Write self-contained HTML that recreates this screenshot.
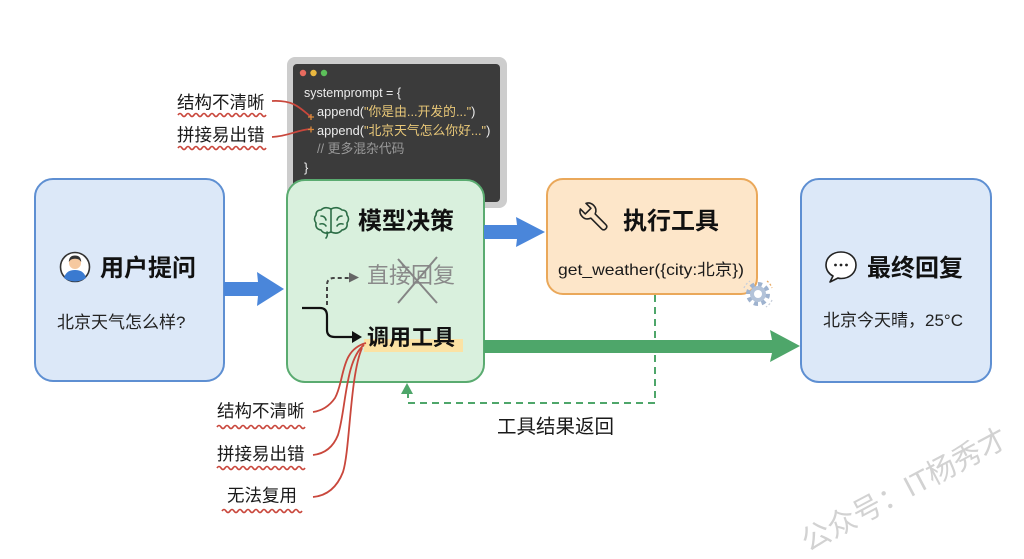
<!DOCTYPE html>
<html><head><meta charset="utf-8"><style>
html,body{margin:0;padding:0;background:#fff;}
svg{display:block;}
text{font-family:"Liberation Sans","Noto Sans CJK SC",sans-serif;}
</style></head><body>
<svg width="1024" height="559" viewBox="0 0 1024 559" xmlns="http://www.w3.org/2000/svg">
<rect width="1024" height="559" fill="#fff"/>

<!-- code window -->
<rect x="287" y="57" width="220" height="151" rx="8" fill="#cdcdcd"/>
<rect x="293" y="64" width="207" height="138" rx="4" fill="#3b3b3b"/>
<circle cx="303" cy="73" r="3.2" fill="#e86b5f"/>
<circle cx="313.5" cy="73" r="3.2" fill="#e9b73f"/>
<circle cx="324" cy="73" r="3.2" fill="#5cc05a"/>
<text x="304" y="97" font-size="12.8" fill="#ececec" textLength="97" lengthAdjust="spacingAndGlyphs">systemprompt = {</text>
<text x="317" y="116" font-size="12.8" fill="#ececec">append(<tspan fill="#e9c878">"你是由...开发的..."</tspan>)</text>
<text x="317" y="135" font-size="12.8" fill="#ececec">append(<tspan fill="#e9c878">"北京天气怎么你好..."</tspan>)</text>
<text x="317" y="153" font-size="12.8" fill="#9a9a9a">// 更多混杂代码</text>
<text x="304" y="172" font-size="12.8" fill="#ececec">}</text>

<!-- top red labels -->
<text x="177" y="108.5" font-size="17.5" fill="#1a1a1a">结构不清晰</text>
<path d="M178 115 q2 -3 4 0 t4 0 t4 0 t4 0 t4 0 t4 0 t4 0 t4 0 t4 0 t4 0 t4 0 t4 0 t4 0 t4 0 t4 0 t4 0 t4 0 t4 0 t4 0 t4 0 t4 0 t4 0" fill="none" stroke="#c9473c" stroke-width="1.6"/>
<text x="177" y="141" font-size="17.5" fill="#1a1a1a">拼接易出错</text>
<path d="M178 148 q2 -3 4 0 t4 0 t4 0 t4 0 t4 0 t4 0 t4 0 t4 0 t4 0 t4 0 t4 0 t4 0 t4 0 t4 0 t4 0 t4 0 t4 0 t4 0 t4 0 t4 0 t4 0 t4 0" fill="none" stroke="#c9473c" stroke-width="1.6"/>
<path d="M272 101 C292 100 298 106 311 117" fill="none" stroke="#c9473c" stroke-width="1.8"/>
<path d="M308 117 h6 M311 114 v6" stroke="#d9893c" stroke-width="1.3"/>
<path d="M272 137 C290 136 296 130 311 129" fill="none" stroke="#c9473c" stroke-width="1.8"/>
<path d="M308 129.5 h6 M311 126.5 v6" stroke="#d9893c" stroke-width="1.3"/>

<!-- user box -->
<rect x="35" y="179" width="189" height="202" rx="18" fill="#dce8f8" stroke="#5e8fd2" stroke-width="2"/>
<circle cx="75" cy="267" r="14.5" fill="#fff" stroke="#333" stroke-width="1.6"/>
<path d="M64 278 Q66 270 75 270 Q84 270 86 278 Q81 281.5 75 281.5 Q69 281.5 64 278 Z" fill="#3a7ad0"/>
<circle cx="75" cy="263" r="6" fill="#f6c9a0"/>
<path d="M68.8 262 Q69 255.5 75 255.5 Q81 255.5 81.2 262 Q79 258.5 75 258.8 Q71 258.5 68.8 262 Z" fill="#333"/>
<text x="100" y="276" font-size="24" font-weight="bold" fill="#111">用户提问</text>
<text x="57" y="328" font-size="17" fill="#222">北京天气怎么样?</text>

<!-- blue arrow 1 -->
<polygon points="224,282 258,282 257,272 284,289 257,306 258,296 224,296" fill="#4a86da"/>

<!-- green box -->
<rect x="287" y="180" width="197" height="202" rx="18" fill="#d9f0dd" stroke="#5aab70" stroke-width="2"/>
<!-- brain -->
<g fill="none" stroke="#2d6e47" stroke-width="1.6" stroke-linecap="round">
<path d="M331 209 Q325 206 321 210 Q316 210 316 215 Q313 219 316 223 Q315 229 321 230 Q324 235 331 232 Q338 235 342 230 Q348 229 347 223 Q350 219 347 215 Q347 210 342 210 Q337 206 331 209 Z"/>
<path d="M331 209 V232 M321 216 Q325 216 326 220 M320 224 Q324 223 326 226 M342 216 Q338 216 337 220 M343 224 Q339 223 337 226"/>
<path d="M327 232 Q328 236 326 238"/>
</g>
<text x="358" y="229" font-size="24" font-weight="bold" fill="#111">模型决策</text>

<!-- branch arrows -->
<path d="M327 305 V285 Q327 278 334 278 H350" fill="none" stroke="#444" stroke-width="2" stroke-dasharray="4 3"/>
<polygon points="349,272.5 359,277.5 349,282.5" fill="#666"/>
<text x="367" y="283" font-size="22" fill="#8a8a8a">直接回复</text>
<path d="M398 259 L437 303 M437 257 L398 303" stroke="#858585" stroke-width="2"/>
<path d="M302 308 H320 Q327 308 327 316 V330 Q327 337 335 337 H354" fill="none" stroke="#111" stroke-width="2.2"/>
<polygon points="352,331 362,337 352,343" fill="#111"/>
<rect x="364" y="339" width="99" height="13" fill="#fbe2a4"/>
<text x="367" y="345" font-size="22" font-weight="bold" fill="#111">调用工具</text>

<!-- bottom red curves -->
<g fill="none" stroke="#c9473c" stroke-width="1.8">
<path d="M366 343 C340 350 345 380 335 398 C328 408 320 411 313 412"/>
<path d="M364 345 C345 360 346 410 338 435 C332 450 322 454 313 455"/>
<path d="M362 348 C350 375 350 450 343 472 C336 490 324 496 313 497"/>
</g>
<text x="217" y="417" font-size="17.5" fill="#1a1a1a">结构不清晰</text>
<path d="M217 427 q2 -3 4 0 t4 0 t4 0 t4 0 t4 0 t4 0 t4 0 t4 0 t4 0 t4 0 t4 0 t4 0 t4 0 t4 0 t4 0 t4 0 t4 0 t4 0 t4 0 t4 0 t4 0 t4 0" fill="none" stroke="#c9473c" stroke-width="1.6"/>
<text x="217" y="460" font-size="17.5" fill="#1a1a1a">拼接易出错</text>
<path d="M217 468 q2 -3 4 0 t4 0 t4 0 t4 0 t4 0 t4 0 t4 0 t4 0 t4 0 t4 0 t4 0 t4 0 t4 0 t4 0 t4 0 t4 0 t4 0 t4 0 t4 0 t4 0 t4 0 t4 0" fill="none" stroke="#c9473c" stroke-width="1.6"/>
<text x="227" y="501.5" font-size="17.5" fill="#1a1a1a">无法复用</text>
<path d="M222 511 q2 -3 4 0 t4 0 t4 0 t4 0 t4 0 t4 0 t4 0 t4 0 t4 0 t4 0 t4 0 t4 0 t4 0 t4 0 t4 0 t4 0 t4 0 t4 0 t4 0 t4 0" fill="none" stroke="#c9473c" stroke-width="1.6"/>

<!-- blue arrow 2 -->
<polygon points="484,225 517,225 516,217 545,232 516,247 517,239 484,239" fill="#4a86da"/>

<!-- tool box -->
<rect x="547" y="179" width="210" height="115" rx="16" fill="#fde6c9" stroke="#eaa85a" stroke-width="2"/>
<g transform="translate(598,221) rotate(-45)">
<path d="M-3 -7 V8 Q-3 11 0 11 Q3 11 3 8 V-7 Q8 -9 8 -14 Q8 -19 4 -21 V-14 H-4 V-21 Q-8 -19 -8 -14 Q-8 -9 -3 -7 Z" fill="none" stroke="#222" stroke-width="1.6" stroke-linejoin="round"/>
</g>
<text x="623" y="229" font-size="24" font-weight="bold" fill="#111">执行工具</text>
<text x="558" y="275" font-size="16" fill="#1a1a1a" textLength="186" lengthAdjust="spacingAndGlyphs">get_weather({city:北京})</text>

<!-- gear -->
<g transform="translate(758,294)">
<circle r="9.5" fill="none" stroke="#9fb3cf" stroke-width="5" stroke-dasharray="4 3.4"/>
<circle r="8" fill="#b3c3d9"/>
<circle r="4" fill="#fff"/>
<path d="M-14 -6 A15 15 0 0 1 -8 -13" fill="none" stroke="#c8cfdb" stroke-width="1.3" stroke-dasharray="2 2"/>
<path d="M14 6 A15 15 0 0 1 8 13" fill="none" stroke="#c8cfdb" stroke-width="1.3" stroke-dasharray="2 2"/>
<path d="M9 -13 A15 15 0 0 1 14 -6" fill="none" stroke="#e8a860" stroke-width="1.3" stroke-dasharray="2 2"/>
</g>

<!-- green arrow -->
<polygon points="484,340 772,340 770,330 800,346 770,362 772,353 484,353" fill="#4ea66a"/>

<!-- dashed return -->
<path d="M655 295 V403 H408 V394" fill="none" stroke="#4ea66a" stroke-width="2" stroke-dasharray="7 5"/>
<polygon points="401,394 407,383 413,394" fill="#4ea66a"/>
<text x="497" y="433" font-size="19.5" fill="#1a1a1a">工具结果返回</text>

<!-- final box -->
<rect x="801" y="179" width="190" height="203" rx="18" fill="#dce8f8" stroke="#5e8fd2" stroke-width="2"/>
<path d="M841 252 C832 252 826 258 826 265 C826 270 829 274 833 276 L830 282 L838 278 C839 278.5 840 278.5 841 278.5 C850 278.5 856 272.5 856 265 C856 258 850 252 841 252 Z" fill="#fff" stroke="#222" stroke-width="1.6" stroke-linejoin="round"/>
<circle cx="835.5" cy="265" r="1.4" fill="#222"/>
<circle cx="841" cy="265" r="1.4" fill="#222"/>
<circle cx="846.5" cy="265" r="1.4" fill="#222"/>
<text x="867" y="276" font-size="24" font-weight="bold" fill="#111">最终回复</text>
<text x="823" y="326" font-size="17" fill="#222">北京今天晴，25°C</text>

<!-- watermark -->
<text transform="translate(808,552) rotate(-28)" font-size="29" fill="#d2d2d2">公众号：IT杨秀才</text>
</svg>
</body></html>
